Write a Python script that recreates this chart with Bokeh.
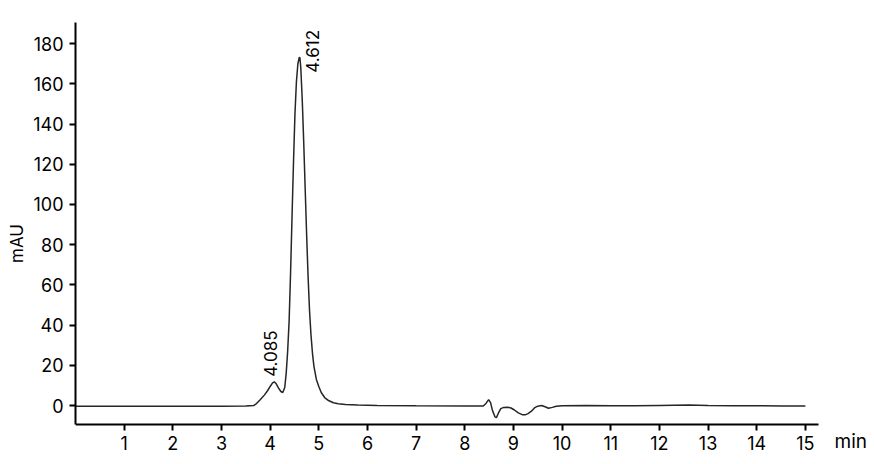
from bokeh.plotting import figure
from bokeh.models import Range1d, FixedTicker, Label, LabelSet, ColumnDataSource
from bokeh.core.properties import value
from bokeh.embed import file_html
from bokeh.resources import INLINE
import math

# retention time (min) and absorbance (mAU)
time_min = [0.0, 1.0, 2.0, 3.0, 3.5, 3.66, 3.72, 3.80, 3.88, 3.95, 4.00, 4.05, 4.085,
            4.12, 4.17, 4.22, 4.26, 4.30, 4.33, 4.36, 4.39, 4.42, 4.45, 4.48, 4.51,
            4.54, 4.57, 4.60, 4.612, 4.63, 4.66, 4.69, 4.72, 4.75, 4.78, 4.81, 4.84,
            4.87, 4.90, 4.95, 5.00, 5.05, 5.12, 5.20, 5.30, 5.40, 5.55, 5.80, 6.20,
            7.0, 8.0, 8.38, 8.44, 8.49, 8.53, 8.57, 8.62, 8.65, 8.69, 8.74, 8.80,
            8.88, 8.95, 9.02, 9.10, 9.18, 9.24, 9.30, 9.37, 9.44, 9.50, 9.58, 9.65,
            9.72, 9.80, 9.88, 10.0, 10.5, 11.0, 11.5, 12.0, 12.6, 13.0, 13.5, 14.0,
            14.5, 15.0]
absorbance = [-0.3, -0.3, -0.3, -0.3, -0.2, 0.0, 1.0, 3.0, 5.2, 7.5, 9.5, 11.3, 11.8,
              11.0, 8.8, 7.0, 6.5, 9.0, 16.0, 27.0, 42.0, 66.0, 94.0, 121.0, 145.0,
              161.0, 170.0, 173.2, 173.0, 168.0, 152.0, 131.0, 108.0, 85.0, 64.0, 47.0, 35.0,
              26.0, 19.5, 13.0, 9.5, 6.5, 4.0, 2.5, 1.4, 0.9, 0.5, 0.3, 0.1,
              -0.1, -0.2, -0.2, 1.2, 3.0, 1.5, -2.5, -5.6, -6.0, -3.8, -1.5, -0.9,
              -0.8, -1.2, -2.2, -3.6, -4.5, -4.6, -4.0, -2.8, -1.0, -0.3, 0.0, -0.6,
              -1.3, -0.9, -0.3, -0.1, 0.0, -0.1, -0.1, 0.1, 0.3, 0.1, -0.1, -0.1,
              -0.2, -0.2]

peak_rt = [4.085, 4.612]
peak_height = [11.8, 173.0]
peak_text = ["4.085", "4.612"]

x_ticks = list(range(1, 16))
y_ticks = list(range(0, 181, 20))

X_AXIS_END = 15.27
Y_AXIS_BOTTOM = -9.5
Y_AXIS_TOP = 190.5

FONT = "Inter"

p = figure(width=874, height=464, output_backend="svg", toolbar_location=None,
           x_range=Range1d(0, 16.42), y_range=Range1d(-29.3, Y_AXIS_TOP),
           min_border_left=75, min_border_right=0, min_border_top=22, min_border_bottom=0)
p.outline_line_color = None
p.xgrid.visible = False
p.ygrid.visible = False
p.background_fill_color = "white"
p.border_fill_color = "white"

p.line(time_min, absorbance, line_color="#262626", line_width=1.5)

for ax in (p.xaxis[0], p.yaxis[0]):
    ax.axis_line_color = "black"
    ax.axis_line_width = 2
    ax.major_tick_line_color = "black"
    ax.major_tick_line_width = 2
    ax.major_tick_out = 6
    ax.major_tick_in = 0
    ax.minor_tick_line_color = None
    ax.major_label_text_font = FONT
    ax.major_label_text_font_size = "18px"
    ax.major_label_text_color = "black"

p.xaxis[0].ticker = FixedTicker(ticks=x_ticks)
p.xaxis[0].bounds = (0, X_AXIS_END)
p.xaxis[0].fixed_location = Y_AXIS_BOTTOM
p.yaxis[0].ticker = FixedTicker(ticks=y_ticks)
p.yaxis[0].bounds = (Y_AXIS_BOTTOM, Y_AXIS_TOP)
p.xaxis[0].major_label_standoff = 5
p.yaxis[0].major_label_standoff = 6
p.yaxis[0].axis_label = "mAU"
p.yaxis[0].axis_label_text_font = FONT
p.yaxis[0].axis_label_text_font_size = "17px"
p.yaxis[0].axis_label_text_font_style = "normal"
p.yaxis[0].axis_label_text_color = "black"
p.yaxis[0].axis_label_standoff = 3

src = ColumnDataSource(dict(x=peak_rt, y=peak_height, t=peak_text,
                            xo=[-4, 13], yo=[5, -15]))
labels = LabelSet(x="x", y="y", text="t", source=src, angle=math.pi / 2,
                  x_offset="xo", y_offset="yo", text_align="left", text_baseline="middle",
                  text_font=value(FONT), text_font_size="17px", text_color="black")
p.add_layout(labels)

p.add_layout(Label(x=X_AXIS_END, y=Y_AXIS_BOTTOM, x_offset=16, y_offset=-17, text="min",
                   text_font=FONT, text_font_size="19px", text_align="left",
                   text_baseline="middle", text_color="black"))

open("out.html", "w").write(file_html(p, INLINE))
